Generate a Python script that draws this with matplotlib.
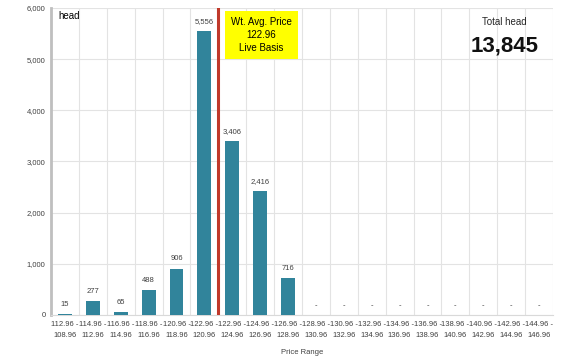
import matplotlib.pyplot as plt
import numpy as np

price_ranges = ["112.96 -\n108.96", "114.96 -\n112.96", "116.96 -\n114.96", "118.96 -\n116.96",
                "120.96 -\n118.96", "122.96 -\n120.96", "122.96 -\n124.96", "124.96 -\n126.96",
                "126.96 -\n128.96", "128.96 -\n130.96", "130.96 -\n132.96", "132.96 -\n134.96",
                "134.96 -\n136.96", "136.96 -\n138.96", "138.96 -\n140.96", "140.96 -\n142.96",
                "142.96 -\n144.96", "144.96 -\n146.96"]
head = [15, 277, 65, 488, 906, 5556, 3406, 2416, 716, 0, 0, 0, 0, 0, 0, 0, 0, 0]
avg_price_pos = 5.5
total_head = 13845

plt.rcParams['font.family'] = ['Liberation Sans', 'DejaVu Sans']

fig = plt.figure(figsize=(5.68, 3.56), dpi=100)
ax = fig.add_axes([0.0898, 0.1152, 0.8838, 0.8623])

x = np.arange(len(head))
ax.bar(x, head, width=0.5, color='#31849B', zorder=3)
for xi, v in zip(x, head):
    lbl = f"{v:,}" if v > 0 else "-"
    ax.text(xi, v + 120, lbl, ha='center', va='bottom', fontsize=5.5, color='#404040')

ax.axvline(avg_price_pos, color='#C0392B', lw=2.2, zorder=4)

ax.set_xlim(-0.5, len(head) - 0.5)
ax.set_ylim(0, 6000)
ax.set_yticks(range(0, 6001, 1000))
ax.set_yticklabels([f"{t:,}" for t in range(0, 6001, 1000)], fontsize=5.5, color='#404040')
ax.set_xticks(x)
ax.set_xticklabels(price_ranges, fontsize=5.5, color='#404040', linespacing=1.9)
ax.set_xticks(np.arange(-0.5, len(head), 1), minor=True)
ax.tick_params(axis='both', length=0, pad=4)
ax.tick_params(axis='x', which='minor', length=0)
ax.grid(axis='y', color='#E3E3E3', lw=0.8, zorder=0)
ax.grid(axis='x', which='minor', color='#E3E3E3', lw=0.8, zorder=0)
ax.grid(axis='x', which='major', visible=False)
ax.set_xlabel("Price Range", fontsize=5.5, color='#404040', labelpad=7)

for s in ['top', 'right']:
    ax.spines[s].set_visible(False)
ax.spines['left'].set_color('#BFBFBF')
ax.spines['left'].set_linewidth(2)
ax.spines['bottom'].set_color('#D9D9D9')

ax.text(0.015, 0.99, "head", transform=ax.transAxes, ha='left', va='top', fontsize=7)
ax.text(7.05, 5470, "Wt. Avg. Price\n122.96\nLive Basis", ha='center', va='center',
        fontsize=7, linespacing=1.35,
        bbox=dict(boxstyle='square,pad=0.6', fc='#FFFF00', ec='none'), zorder=5)
ax.text(15.75, 5726, "Total head", ha='center', va='center', fontsize=7, color='#262626')
ax.text(15.75, 5260, f"{total_head:,}", ha='center', va='center', fontsize=16,
        fontweight='bold', color='#111111')

fig.savefig("out.png", dpi=100)
